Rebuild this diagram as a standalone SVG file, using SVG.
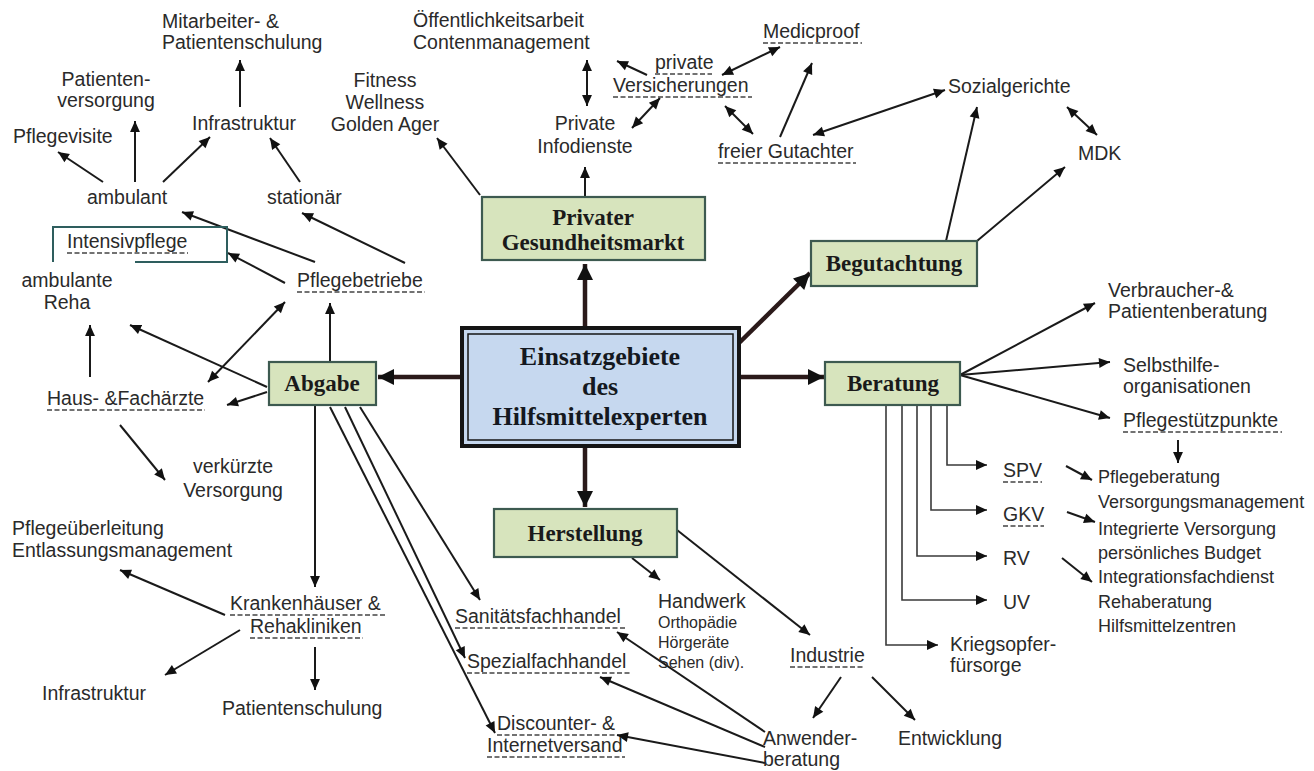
<svg xmlns="http://www.w3.org/2000/svg" width="1314" height="771" viewBox="0 0 1314 771">
<style>
text{font-family:"Liberation Sans",Arial,sans-serif;font-size:19.5px;fill:#2a2a2a}
.s{font-size:18px}
.xs{font-size:16px}
.b{font-family:"Liberation Serif","Times New Roman",serif;font-weight:bold;font-size:23px;fill:#1a1a1a;text-anchor:middle}
.cb{font-family:"Liberation Serif","Times New Roman",serif;font-weight:bold;font-size:26px;fill:#141820;text-anchor:middle}
.m{text-anchor:middle}
.box{fill:#d7e4bd;stroke:#3d5a50;stroke-width:2.2}
.ln{fill:none;stroke:#1a1a1a;stroke-width:2;marker-end:url(#ah)}
.dbl{marker-start:url(#ah)}
.th{fill:none;stroke:#2b1a1a;stroke-width:4.5;marker-end:url(#big)}
.br{fill:none;stroke:#3a3a3a;stroke-width:1.6;marker-end:url(#ah)}
.ul{fill:none;stroke:#444;stroke-width:1.3;stroke-dasharray:5 2.5}
</style>
<defs>
<marker id="ah" viewBox="0 0 10 10" refX="10" refY="5" markerWidth="12" markerHeight="11" markerUnits="userSpaceOnUse" orient="auto-start-reverse"><path d="M0,0.5 L10,5 L0,9.5 z" fill="#111"/></marker>
<marker id="big" viewBox="0 0 10 10" refX="10" refY="5" markerWidth="17" markerHeight="16" markerUnits="userSpaceOnUse" orient="auto"><path d="M0,0 L10,5 L0,10 z" fill="#111"/></marker>
</defs>
<rect width="1314" height="771" fill="#fff"/>

<g id="connectors">
<path class="th" d="M585,328 L585,264"/>
<path class="th" d="M585,446 L585,507"/>
<path class="th" d="M462,377 L378,377"/>
<path class="th" d="M739,377 L824,377"/>
<path class="th" d="M739,343 L810,273"/>
<path class="ln" d="M240,107 L240,60"/>
<path class="ln" d="M135,182 L135,121"/>
<path class="ln" d="M103,182 L58,152"/>
<path class="ln" d="M163,182 L210,137"/>
<path class="ln" d="M300,182 L270,138"/>
<path class="ln" d="M315,262 L182,212"/>
<path class="ln" d="M405,263 L302,213"/>
<path class="ln" d="M285,283 L228,253"/>
<path class="ln" d="M90,377 L90,325"/>
<path class="ln" d="M330,362 L330,303"/>
<path class="ln dbl" d="M285,302 L208,382"/>
<path class="ln" d="M267,387 L130,325"/>
<path class="ln" d="M267,392 L227,405"/>
<path class="ln" d="M120,425 L165,480"/>
<path class="ln" d="M315,405 L315,587"/>
<path class="ln" d="M225,615 L120,570"/>
<path class="ln" d="M240,630 L165,675"/>
<path class="ln" d="M315,647 L315,690"/>
<path class="ln" d="M360,407 L480,600"/>
<path class="ln" d="M345,407 L465,658"/>
<path class="ln" d="M330,407 L495,733"/>
<path class="ln" d="M632,558 L660,580"/>
<path class="ln" d="M677,530 L810,635"/>
<path class="ln" d="M841,677 L813,718"/>
<path class="ln" d="M872,677 L915,720"/>
<path class="ln" d="M765,732 L617,632"/>
<path class="ln" d="M765,747 L600,677"/>
<path class="ln" d="M765,763 L617,735"/>
<path class="ln" d="M480,195 L437,138"/>
<path class="ln" d="M585,197 L585,167"/>
<path class="ln dbl" d="M587,60 L587,106"/>
<path class="ln" d="M647,75 L617,61"/>
<path class="ln dbl" d="M660,98 L632,128"/>
<path class="ln dbl" d="M722,75 L780,47"/>
<path class="ln dbl" d="M725,106 L753,134"/>
<path class="ln" d="M780,137 L812,63"/>
<path class="ln dbl" d="M813,135 L945,90"/>
<path class="ln dbl" d="M1067,107 L1097,135"/>
<path class="ln" d="M946,241 L977,107"/>
<path class="ln" d="M977,241 L1065,167"/>
<path class="ln" d="M960,375 L1095,303"/>
<path class="ln" d="M960,375 L1110,362"/>
<path class="ln" d="M960,375 L1110,418"/>
<path class="ln" d="M1178,440 L1178,463"/>
<path class="br" d="M947,405 V465 H987"/>
<path class="br" d="M931,405 V510 H987"/>
<path class="br" d="M917,405 V556 H987"/>
<path class="br" d="M902,405 V600 H987"/>
<path class="br" d="M886,405 V645 H938"/>
<path class="ln" d="M1066,466 L1092,480"/>
<path class="ln" d="M1067,512 L1095,522"/>
<path class="ln" d="M1062,558 L1092,582"/>
</g>

<g id="center">
<rect x="462" y="328" width="277" height="118" fill="#c6d8ef" stroke="#151515" stroke-width="4"/>
<rect x="468" y="334" width="265" height="106" fill="none" stroke="#151515" stroke-width="1.5"/>
<text class="cb" x="600" y="365">Einsatzgebiete</text>
<text class="cb" x="600" y="395">des</text>
<text class="cb" x="600" y="425">Hilfsmittelexperten</text>
</g>
<g id="privater">
<rect class="box" x="482" y="197" width="223" height="63"/>
<text class="b" x="593" y="225">Privater</text>
<text class="b" x="593" y="250">Gesundheitsmarkt</text>
</g>
<g id="begutachtung">
<rect class="box" x="811" y="241" width="166" height="45"/>
<text class="b" x="894" y="271">Begutachtung</text>
</g>
<g id="beratung">
<rect class="box" x="825" y="362" width="135" height="43"/>
<text class="b" x="893" y="391">Beratung</text>
</g>
<g id="abgabe">
<rect class="box" x="269" y="362" width="107" height="43"/>
<text class="b" x="322" y="391">Abgabe</text>
</g>
<g id="herstellung">
<rect class="box" x="494" y="509" width="183" height="48"/>
<text class="b" x="585" y="541">Herstellung</text>
</g>

<g id="mitarbeiter"><text x="162" y="28">Mitarbeiter- &amp;</text><text x="162" y="49">Patientenschulung</text></g>
<g id="patientenversorgung"><text class="m" x="106" y="86">Patienten-</text><text class="m" x="106" y="107">versorgung</text></g>
<g id="pflegevisite"><text x="13" y="143">Pflegevisite</text></g>
<g id="infrastruktur1"><text x="192" y="130">Infrastruktur</text></g>
<g id="fitness"><text class="m" x="385" y="87">Fitness</text><text class="m" x="385" y="109">Wellness</text><text class="m" x="385" y="131">Golden Ager</text></g>
<g id="ambulant"><text x="87" y="204">ambulant</text></g>
<g id="stationaer"><text x="267" y="204">stationär</text></g>
<g id="intensivpflege"><path d="M53,262 V227 H227 V262 H135" fill="none" stroke="#2e5e5e" stroke-width="2"/><text x="67" y="248">Intensivpflege</text><path class="ul" d="M67,253 H188"/></g>
<g id="ambulanteReha"><text class="m" x="67" y="287">ambulante</text><text class="m" x="67" y="309">Reha</text></g>
<g id="pflegebetriebe"><text x="297" y="287">Pflegebetriebe</text><path class="ul" d="M297,292 H425"/></g>
<g id="hausaerzte"><text x="47" y="405">Haus- &amp;Fachärzte</text><path class="ul" d="M47,410 H205"/></g>
<g id="verkuerzte"><text class="m" x="233" y="473">verkürzte</text><text class="m" x="233" y="497">Versorgung</text></g>
<g id="pflegeueberleitung"><text x="12" y="535">Pflegeüberleitung</text><text x="12" y="557">Entlassungsmanagement</text></g>
<g id="krankenhaeuser"><text x="230" y="610">Krankenhäuser &amp;</text><path class="ul" d="M230,615 H385"/><text x="250" y="633">Rehakliniken</text><path class="ul" d="M250,638 H363"/></g>
<g id="infrastruktur2"><text x="42" y="700">Infrastruktur</text></g>
<g id="patientenschulung"><text x="222" y="715">Patientenschulung</text></g>
<g id="sanitaet"><text x="455" y="623">Sanitätsfachhandel</text><path class="ul" d="M455,628 H625"/></g>
<g id="spezial"><text x="467" y="668">Spezialfachhandel</text><path class="ul" d="M467,673 H630"/></g>
<g id="discounter"><text x="497" y="730">Discounter- &amp;</text><path class="ul" d="M497,735 H615"/><text x="487" y="752">Internetversand</text><path class="ul" d="M487,757 H625"/></g>
<g id="handwerk"><text x="658" y="608">Handwerk</text><text class="xs" x="658" y="628">Orthopädie</text><text class="xs" x="658" y="648">Hörgeräte</text><text class="xs" x="658" y="668">Sehen (div).</text></g>
<g id="industrie"><text x="790" y="662">Industrie</text><path class="ul" d="M790,667 H865"/></g>
<g id="anwender"><text x="763" y="745">Anwender-</text><text x="763" y="766">beratung</text></g>
<g id="entwicklung"><text x="898" y="745">Entwicklung</text></g>
<g id="oeffentlichkeit"><text x="413" y="27">Öffentlichkeitsarbeit</text><text x="413" y="49">Contenmanagement</text></g>
<g id="infodienste"><text class="m" x="585" y="130">Private</text><text class="m" x="585" y="153">Infodienste</text></g>
<g id="versicherungen"><text x="655" y="69">private</text><path class="ul" d="M655,74 H712"/><text x="613" y="92">Versicherungen</text><path class="ul" d="M613,97 H752"/></g>
<g id="medicproof"><text x="763" y="38">Medicproof</text><path class="ul" d="M763,43 H862"/></g>
<g id="gutachter"><text x="718" y="158">freier Gutachter</text><path class="ul" d="M718,163 H856"/></g>
<g id="sozialgerichte"><text x="948" y="93">Sozialgerichte</text></g>
<g id="mdk"><text x="1078" y="160">MDK</text></g>
<g id="verbraucher"><text x="1108" y="297">Verbraucher-&amp;</text><text x="1108" y="318">Patientenberatung</text></g>
<g id="selbsthilfe"><text x="1123" y="372">Selbsthilfe-</text><text x="1123" y="393">organisationen</text></g>
<g id="pflegestuetzpunkte"><text x="1123" y="427">Pflegestützpunkte</text><path class="ul" d="M1123,432 H1282"/></g>
<g id="spv"><text x="1003" y="477">SPV</text><path class="ul" d="M1003,482 H1042"/></g>
<g id="gkv"><text x="1003" y="521">GKV</text><path class="ul" d="M1003,526 H1044"/></g>
<g id="rv"><text x="1003" y="565">RV</text></g>
<g id="uv"><text x="1003" y="609">UV</text></g>
<g id="kriegsopfer"><text x="950" y="651">Kriegsopfer-</text><text x="950" y="672">fürsorge</text></g>
<g id="leistungen"><text class="s" x="1098" y="483">Pflegeberatung</text><text class="s" x="1098" y="508">Versorgungsmanagement</text><text class="s" x="1098" y="535">Integrierte Versorgung</text><text class="s" x="1098" y="559">persönliches Budget</text><text class="s" x="1098" y="583">Integrationsfachdienst</text><text class="s" x="1098" y="608">Rehaberatung</text><text class="s" x="1098" y="632">Hilfsmittelzentren</text></g>
</svg>
